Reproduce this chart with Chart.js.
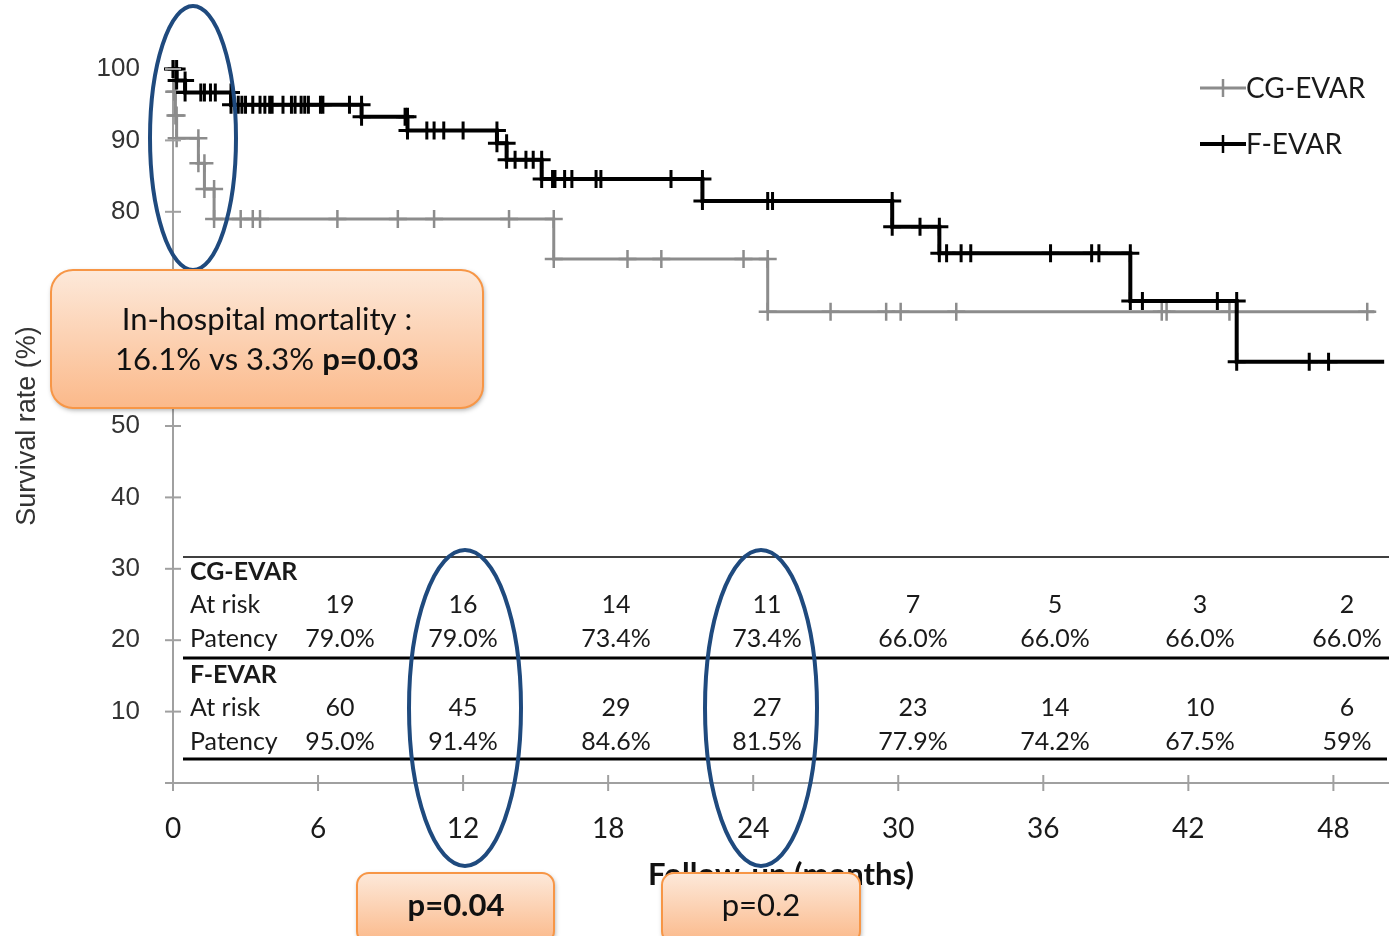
<!DOCTYPE html>
<html>
<head>
<meta charset="utf-8">
<script src="https://cdn.jsdelivr.net/npm/chart.js@4.4.1/dist/chart.umd.min.js"></script>
<style>
  html, body { margin: 0; padding: 0; background: #fff; }
  canvas { display: block; }
</style>
</head>
<body>
<canvas id="km" width="1389" height="936"></canvas>
<script>
// Kaplan-Meier data (months / survival %)
const seriesNames = ['CG-EVAR', 'F-EVAR'];

const cgStepTimes = [0.05, 0.1, 0.15, 1.05, 1.3, 1.7, 15.75, 24.6];
const cgStepSurv = [96.8, 93.5, 90.3, 86.8, 83.2, 79.0, 73.4, 66.0];
const cgCensorTimes = [2.8, 3.3, 3.6, 6.8, 9.3, 10.8, 13.9, 18.8, 20.2, 23.6, 27.2, 29.5, 30.1, 32.4, 40.9, 41.1, 43.7, 49.4];
const cgLastTime = 49.7;

const fStepTimes = [0.15, 0.5, 2.4, 7.8, 9.7, 13.4, 13.8, 15.25, 21.9, 29.75, 31.7, 39.6, 44.0];
const fStepSurv = [98.4, 96.7, 95.0, 93.3, 91.4, 89.6, 87.3, 84.6, 81.5, 77.9, 74.2, 67.5, 59.0];
const fCensorTimes = [1.15, 1.3, 1.55, 1.75, 2.7, 2.85, 3.0, 3.3, 3.6, 3.8, 4.0, 4.1, 4.55, 4.9, 5.05, 5.3, 5.45, 5.6,
  6.1, 6.2, 7.3, 9.6, 10.5, 10.8, 11.2, 12.0, 14.15, 14.6, 14.9, 15.7, 15.8, 16.2, 16.5, 17.5, 17.7, 20.6,
  24.6, 24.8, 30.9, 32.0, 32.6, 33.0, 36.3, 38.0, 38.3, 40.1, 43.2, 47.0, 47.8];
const fLastTime = 50.1;

// number-at-risk table
const tableMonths = [6, 12, 18, 24, 30, 36, 42, 48];
const cgAtRisk = [19, 16, 14, 11, 7, 5, 3, 2];
const cgPatency = ['79.0%', '79.0%', '73.4%', '73.4%', '66.0%', '66.0%', '66.0%', '66.0%'];
const fAtRisk = [60, 45, 29, 27, 23, 14, 10, 6];
const fPatency = ['95.0%', '91.4%', '84.6%', '81.5%', '77.9%', '74.2%', '67.5%', '59%'];

const GRAY = '#8c8c8c';
const CALIBRI = 'Lato, "Open Sans", sans-serif';
const ARIAL = '"Liberation Sans", Arial, sans-serif';

// build step curve: two points per event (before/after), one per censor
function kmPoints(stepTimes, stepSurv, censorTimes, lastTime) {
  const events = stepTimes.map((t, i) => ({ t: t, s: stepSurv[i] }))
    .concat(censorTimes.map(t => ({ t: t, s: null })))
    .sort((a, b) => a.t - b.t);
  const pts = [{ x: 0, y: 100 }];
  let level = 100;
  events.forEach(e => {
    pts.push({ x: e.t, y: level });
    if (e.s !== null) {
      level = e.s;
      pts.push({ x: e.t, y: level });
    }
  });
  pts.push({ x: lastTime, y: level, end: true });
  return pts;
}

function roundBox(ctx, x, y, w, h, r) {
  ctx.save();
  ctx.shadowColor = 'rgba(0,0,0,0.35)';
  ctx.shadowBlur = 5;
  ctx.shadowOffsetX = 1;
  ctx.shadowOffsetY = 2;
  const g = ctx.createLinearGradient(0, y, 0, y + h);
  g.addColorStop(0, '#fde9da');
  g.addColorStop(1, '#fbb98a');
  ctx.beginPath();
  ctx.roundRect(x, y, w, h, r);
  ctx.fillStyle = g;
  ctx.fill();
  ctx.shadowColor = 'transparent';
  ctx.lineWidth = 2;
  ctx.strokeStyle = '#f79646';
  ctx.stroke();
  ctx.restore();
}

function ellipse(ctx, cx, cy, rx, ry) {
  ctx.save();
  ctx.beginPath();
  ctx.ellipse(cx, cy, rx, ry, 0, 0, Math.PI * 2);
  ctx.lineWidth = 4;
  ctx.strokeStyle = '#1f4a7e';
  ctx.stroke();
  ctx.restore();
}

const overlayPlugin = {
  id: 'overlay',
  afterDraw(chart) {
    const ctx = chart.ctx;
    const xs = chart.scales.x, ys = chart.scales.y;
    const x0 = xs.getPixelForValue(0), y0 = ys.getPixelForValue(0);

    // crossing tick marks
    ctx.save();
    ctx.strokeStyle = '#a0a0a0';
    ctx.lineWidth = 2;
    ys.ticks.forEach(t => {
      const py = ys.getPixelForValue(t.value);
      ctx.beginPath(); ctx.moveTo(x0 - 8, py); ctx.lineTo(x0 + 8, py); ctx.stroke();
    });
    xs.ticks.forEach(t => {
      const px = xs.getPixelForValue(t.value);
      ctx.beginPath(); ctx.moveTo(px, y0 - 8); ctx.lineTo(px, y0 + 8); ctx.stroke();
    });
    ctx.beginPath(); ctx.moveTo(x0 - 8, y0); ctx.lineTo(x0, y0); ctx.stroke();
    ctx.restore();

    // legend
    ctx.save();
    const legendColors = [GRAY, '#000'];
    [88, 144].forEach((ly, i) => {
      ctx.strokeStyle = legendColors[i];
      ctx.lineWidth = i ? 4 : 3;
      ctx.beginPath(); ctx.moveTo(1200, ly); ctx.lineTo(1246, ly); ctx.stroke();
      ctx.lineWidth = 2.5;
      ctx.beginPath(); ctx.moveTo(1223, ly - 9); ctx.lineTo(1223, ly + 9); ctx.stroke();
      ctx.fillStyle = '#1a1a1a';
      ctx.font = '28px ' + CALIBRI;
      ctx.textBaseline = 'middle';
      ctx.fillText(seriesNames[i], 1246, ly + 1);
    });
    ctx.restore();

    // at-risk table
    ctx.save();
    const colX = [340, 463, 616, 767, 913, 1055, 1200, 1347];
    ctx.strokeStyle = '#000';
    ctx.lineWidth = 1.5;
    ctx.beginPath(); ctx.moveTo(183, 557); ctx.lineTo(1389, 557); ctx.stroke();
    ctx.lineWidth = 3;
    ctx.beginPath(); ctx.moveTo(183, 658); ctx.lineTo(1389, 658); ctx.stroke();
    ctx.beginPath(); ctx.moveTo(183, 759); ctx.lineTo(1387, 759); ctx.stroke();
    ctx.fillStyle = '#1a1a1a';
    ctx.textBaseline = 'middle';
    const groups = [
      { name: seriesNames[0], y: 572, risk: cgAtRisk, pat: cgPatency },
      { name: seriesNames[1], y: 675, risk: fAtRisk, pat: fPatency }
    ];
    groups.forEach(g => {
      ctx.textAlign = 'left';
      ctx.font = 'bold 25px ' + CALIBRI;
      ctx.fillText(g.name, 190, g.y);
      ctx.font = '25px ' + CALIBRI;
      ctx.fillText('At risk', 190, g.y + 33);
      ctx.fillText('Patency', 190, g.y + 67);
      ctx.textAlign = 'center';
      tableMonths.forEach((m, i) => {
        ctx.fillText(String(g.risk[i]), colX[i], g.y + 33);
        ctx.fillText(g.pat[i], colX[i], g.y + 67);
      });
    });
    ctx.restore();

    // highlight ellipses
    ellipse(ctx, 193, 138, 43, 132);
    ellipse(ctx, 465, 708, 56, 158);
    ellipse(ctx, 761, 708, 56, 158);

    // call-out boxes
    ctx.save();
    roundBox(ctx, 51, 270, 432, 138, 22);
    ctx.fillStyle = '#111';
    ctx.textBaseline = 'middle';
    ctx.textAlign = 'center';
    ctx.font = '31px ' + CALIBRI;
    ctx.fillText('In-hospital mortality :', 267, 320);
    const partA = '16.1% vs 3.3% ', partB = 'p=0.03';
    ctx.font = '31px ' + CALIBRI;
    const wA = ctx.measureText(partA).width;
    ctx.font = 'bold 31px ' + CALIBRI;
    const wB = ctx.measureText(partB).width;
    const sx = 267 - (wA + wB) / 2;
    ctx.textAlign = 'left';
    ctx.font = '31px ' + CALIBRI;
    ctx.fillText(partA, sx, 360);
    ctx.font = 'bold 31px ' + CALIBRI;
    ctx.fillText(partB, sx + wA, 360);

    roundBox(ctx, 357, 873, 197, 70, 12);
    roundBox(ctx, 662, 873, 198, 70, 12);
    ctx.textAlign = 'center';
    ctx.font = 'bold 31px ' + CALIBRI;
    ctx.fillText('p=0.04', 456, 906);
    ctx.font = '31px ' + CALIBRI;
    ctx.fillText('p=0.2', 761, 906);
    ctx.restore();
  }
};

const crossRadius = ctx => (ctx.raw && ctx.raw.end) ? 0 : 9;

new Chart(document.getElementById('km'), {
  type: 'scatter',
  data: {
    datasets: [
      {
        label: seriesNames[0],
        data: kmPoints(cgStepTimes, cgStepSurv, cgCensorTimes, cgLastTime),
        showLine: true,
        borderColor: GRAY,
        backgroundColor: GRAY,
        borderWidth: 3,
        pointStyle: 'cross',
        pointRadius: crossRadius,
        pointBorderWidth: 2.5,
        pointBorderColor: GRAY,
        clip: false,
        order: 2
      },
      {
        label: seriesNames[1],
        data: kmPoints(fStepTimes, fStepSurv, fCensorTimes, fLastTime),
        showLine: true,
        borderColor: '#000',
        backgroundColor: '#000',
        borderWidth: 4,
        pointStyle: 'cross',
        pointRadius: crossRadius,
        pointBorderWidth: 3,
        pointBorderColor: '#000',
        clip: false,
        order: 1
      }
    ]
  },
  options: {
    responsive: false,
    animation: false,
    devicePixelRatio: 1,
    layout: { autoPadding: false, padding: { top: 69, left: 0, right: 0, bottom: 0 } },
    plugins: {
      legend: { display: false },
      tooltip: { enabled: false }
    },
    scales: {
      x: {
        type: 'linear',
        min: 0,
        max: 50.3,
        grid: { display: false, drawTicks: false },
        border: { color: '#a0a0a0', width: 2 },
        ticks: {
          stepSize: 6,
          includeBounds: false,
          padding: 29,
          color: '#1a1a1a',
          font: { family: CALIBRI, size: 28 }
        },
        title: {
          display: true,
          text: 'Follow-up (months)',
          color: '#111',
          font: { family: CALIBRI, size: 31, weight: 'bold' },
          padding: { top: 0, bottom: 42 }
        },
        afterFit(scale) {
          scale.height = 153;
          scale.paddingLeft = 0;
          scale.paddingRight = 0;
        }
      },
      y: {
        min: 0,
        max: 100,
        grid: { display: false, drawTicks: false },
        border: { color: '#a0a0a0', width: 2 },
        ticks: {
          stepSize: 10,
          padding: 33,
          color: '#333',
          font: { family: ARIAL, size: 26 },
          callback: v => v === 0 ? '' : v
        },
        title: {
          display: true,
          text: 'Survival rate (%)',
          color: '#333',
          font: { family: ARIAL, size: 27 },
          padding: { top: 11, bottom: 0 }
        },
        afterFit(scale) {
          scale.width = 173;
          scale.paddingTop = 0;
          scale.paddingBottom = 0;
        }
      }
    }
  },
  plugins: [overlayPlugin]
});
</script>
</body>
</html>
